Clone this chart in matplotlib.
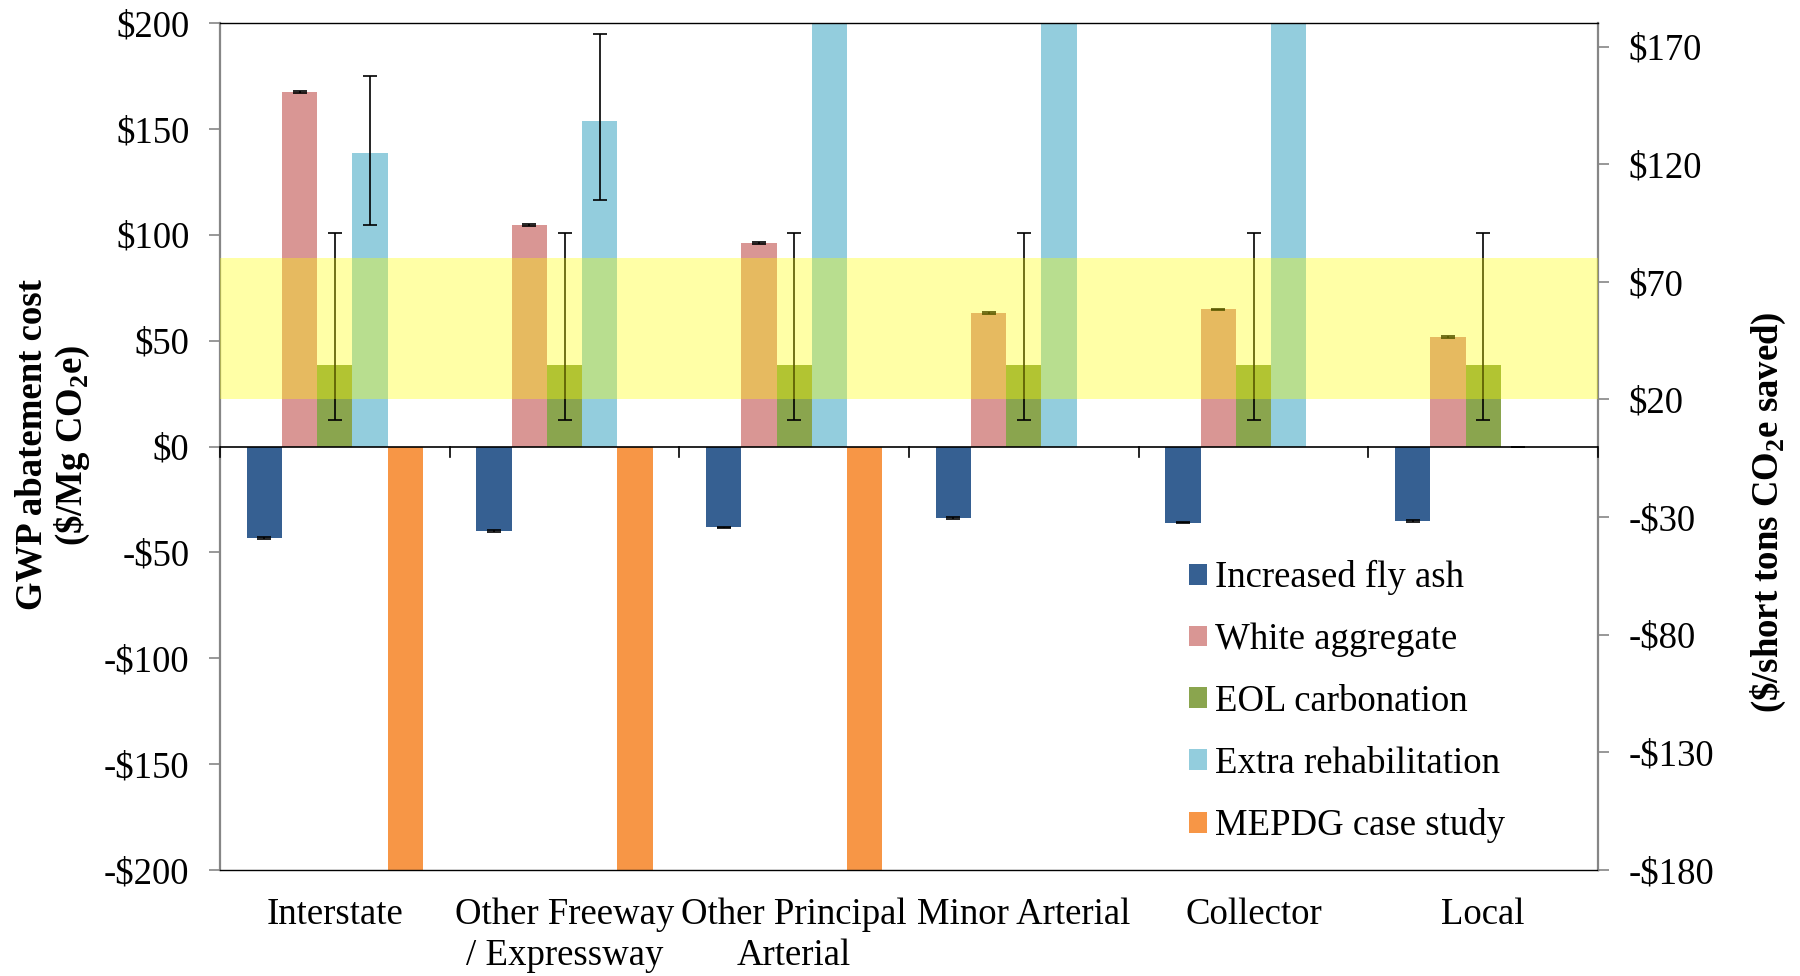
import matplotlib
matplotlib.use('Agg')
import matplotlib.pyplot as plt
import numpy as np

plt.rcParams['font.family'] = ['Liberation Serif', 'DejaVu Serif']
plt.rcParams['mathtext.fontset'] = 'custom'
plt.rcParams['mathtext.rm'] = 'Liberation Serif'
plt.rcParams['mathtext.bf'] = 'Liberation Serif:bold'

# data ($/Mg CO2e)
categories = ['Interstate', 'Other Freeway\n/ Expressway', 'Other Principal\nArterial',
              'Minor Arterial', 'Collector', 'Local']
series = ['Increased fly ash', 'White aggregate', 'EOL carbonation',
          'Extra rehabilitation', 'MEPDG case study']
fly_ash = [-43.3, -39.8, -38.2, -33.8, -35.9, -35.1]
white_agg = [167.5, 104.5, 96.0, 63.1, 64.7, 51.8]
eol_carb = [38.7, 38.7, 38.7, 38.7, 38.7, 38.7]
eol_lo = [12.3, 12.3, 12.3, 12.3, 12.3, 12.3]
eol_hi = [100.8, 100.8, 100.8, 100.8, 100.8, 100.8]
extra_rehab = [138.6, 153.7, 260.0, 260.0, 260.0, 0.0]
rehab_lo = [104.5, 116.3, 260.0, 260.0, 260.0, 0.0]
rehab_hi = [174.9, 194.6, 260.0, 260.0, 260.0, 0.0]
mepdg = [-260.0, -260.0, -260.0, 0.0, 0.0, 0.0]

left_ticks = [-200, -150, -100, -50, 0, 50, 100, 150, 200]
right_ticks = [-180, -130, -80, -30, 20, 70, 120, 170]
band = (20, 80)  # $/short ton

colors = ['#366092', '#d99694', '#8aa54e', '#93cddd', '#f79646']


def money(v):
    return ('-$%d' % -v) if v < 0 else ('$%d' % v)


fig = plt.figure(figsize=(18, 9.76), dpi=100)
ax = fig.add_axes([220 / 1800, 1 - 870 / 976, 1378 / 1800, 847 / 976])

x = np.arange(len(categories))
w = 0.1536
vals = [fly_ash, white_agg, eol_carb, extra_rehab, mepdg]
bars = []
for i, (v, c, lab) in enumerate(zip(vals, colors, series)):
    bars.append(ax.bar(x + (i - 2) * w, v, w, color=c, label=lab, zorder=2))

ekw = dict(fmt='none', ecolor='black', elinewidth=1.2, capsize=5, capthick=1.2, zorder=3)
ax.errorbar(x - 2 * w, fly_ash, yerr=0.4, **ekw)
ax.errorbar(x - w, white_agg, yerr=0.4, **ekw)
ax.errorbar(x, eol_carb,
            yerr=[np.array(eol_carb) - eol_lo, np.array(eol_hi) - eol_carb], **ekw)
ax.errorbar(x + w, extra_rehab,
            yerr=[np.array(extra_rehab) - rehab_lo, np.array(rehab_hi) - extra_rehab], **ekw)

ax.set_xlim(-0.5, len(categories) - 0.5)
ax.set_ylim(-200, 200)
ax.set_yticks(left_ticks)
ax.set_yticklabels([money(t) for t in left_ticks])
ax.set_xticks(x)
ax.set_xticklabels(categories, linespacing=1.22)
ax.tick_params(axis='x', length=0, pad=20, labelsize=26.5)
ax.tick_params(axis='y', direction='out', length=8, width=1.2, color='#868686',
               pad=14, labelsize=26.5)

# zero line with category ticks
ax.axhline(0, color='black', lw=1.2, zorder=4)
for b in np.arange(len(categories) + 1) - 0.5:
    ax.plot([b, b], [0, -5], color='black', lw=1.2, zorder=4, clip_on=False)

for s in ['top', 'bottom']:
    ax.spines[s].set_color('black')
    ax.spines[s].set_linewidth(1.0)
for s in ['left', 'right']:
    ax.spines[s].set_color('#868686')
    ax.spines[s].set_linewidth(1.6)

ax2 = ax.twinx()
ax2.set_ylim(-180, 180)
ax2.set_yticks(right_ticks)
ax2.set_yticklabels([money(t) for t in right_ticks])
ax2.tick_params(axis='y', direction='out', length=8, width=1.2, color='#868686',
                pad=14, labelsize=26.5)
for s in ax2.spines.values():
    s.set_visible(False)
ax2.axhspan(band[0], band[1], color='#ffff00', alpha=0.35, lw=0, zorder=5)

ax2.legend(handles=bars, loc='upper left', bbox_to_anchor=(0.703, 0.366),
           frameon=False, fontsize=26.5, handlelength=0.5, handleheight=0.5,
           handletextpad=0.22, labelspacing=0.745, borderpad=0, borderaxespad=0)

fig.text(53 / 1800, 0.544, 'GWP abatement cost\n' + r'(\$/Mg CO$_\mathbf{2}$e)',
         rotation=90, ha='center', va='center', fontsize=26.5, fontweight='bold',
         multialignment='center', linespacing=1.1)
fig.text(1768 / 1800, 0.475, r'(\$/short tons CO$_\mathbf{2}$e saved)',
         rotation=90, ha='center', va='center', fontsize=26.5, fontweight='bold')

fig.savefig('out.png', dpi=100)
